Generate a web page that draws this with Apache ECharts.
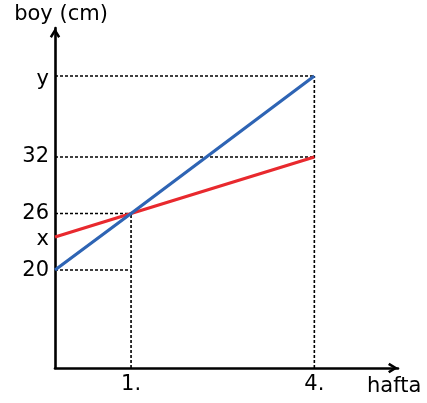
<!DOCTYPE html>
<html>
<head>
<meta charset="utf-8">
<script src="https://cdn.jsdelivr.net/npm/echarts@6/dist/echarts.min.js"></script>
<style>
  html, body { margin: 0; padding: 0; background: #fff; }
  #chart { width: 427px; height: 403px; }
</style>
</head>
<body>
<div id="chart"></div>
<script>
// Sketch is not drawn to scale on the x axis: positions (week-1 spacing = 1 unit)
const weekPos = [0, 1, 3.41];
const weekLabels = ['', '1.', '4.'];
const redVals = [23.5, 26, 32];     // boy starting at x
const blueVals = [20, 26, 40.6];    // boy ending at y
const yTickVals = [20, 23.2, 26, 32, 40.2];
const yTickLabels = ['20', 'x', '26', '32', 'y'];

const yMin = 9.6, yMax = 45.7, xMax = 4.51;
const FONT = 'DejaVu Sans';

const chart = echarts.init(document.getElementById('chart'), null, { renderer: 'canvas' });

const pts = vals => vals.map((v, i) => [weekPos[i], v]);

// dashed guide segments derived from the data
const guides = [
  [[0, blueVals[0]], [weekPos[1], blueVals[0]]],
  [[0, blueVals[1]], [weekPos[1], blueVals[1]]],
  [[weekPos[1], yMin], [weekPos[1], blueVals[1]]],
  [[0, redVals[2]], [weekPos[2], redVals[2]]],
  [[0, blueVals[2]], [weekPos[2], blueVals[2]]],
  [[weekPos[2], yMin], [weekPos[2], blueVals[2]]]
];

const arrow = 'path://M5,0 L10,8.2 L8,9.6 L5,4.6 L2,9.6 L0,8.2 Z';

const series = guides.map(seg => ({
  type: 'line',
  data: seg,
  symbol: 'none',
  silent: true,
  clip: false,
  z: 1,
  lineStyle: { color: '#000', width: 1.6, type: [3, 2] }
}));
series.push({
  type: 'line', data: pts(redVals), symbol: 'none', clip: false, z: 3,
  lineStyle: { color: '#e8292e', width: 3.2 }
});
series.push({
  type: 'line', data: pts(blueVals), symbol: 'none', clip: false, z: 4,
  lineStyle: { color: '#2e64b4', width: 3.2 }
});

const axisLine = {
  show: true, symbol: ['none', arrow], symbolSize: [11, 10], symbolOffset: [0, -5],
  lineStyle: { color: '#000', width: 2.6 }
};

chart.setOption({
  animation: false,
  grid: { left: 55, top: 28, right: 29, bottom: 35 },
  xAxis: {
    type: 'value', min: 0, max: xMax,
    name: 'hafta', nameLocation: 'end', nameGap: -31,
    nameTextStyle: { fontFamily: FONT, fontSize: 21, color: '#000', verticalAlign: 'top', align: 'left', padding: [8, 0, 0, 0] },
    axisLine: axisLine,
    axisTick: { show: false },
    splitLine: { show: false },
    axisLabel: {
      customValues: weekPos.slice(1),
      formatter: v => weekLabels[weekPos.indexOf(v)] || '',
      fontFamily: FONT, fontSize: 21, color: '#000', margin: 6
    }
  },
  yAxis: {
    type: 'value', min: yMin, max: yMax,
    name: 'boy (cm)', nameLocation: 'end', nameGap: 3,
    nameTextStyle: { fontFamily: FONT, fontSize: 21, color: '#000', padding: [0, 0, 0, 12] },
    axisLine: axisLine,
    axisTick: { show: false },
    splitLine: { show: false },
    axisLabel: {
      customValues: yTickVals,
      formatter: v => yTickLabels[yTickVals.indexOf(v)] || '',
      fontFamily: FONT, fontSize: 21, color: '#000', margin: 6
    }
  },
  series: series
});
</script>
</body>
</html>
